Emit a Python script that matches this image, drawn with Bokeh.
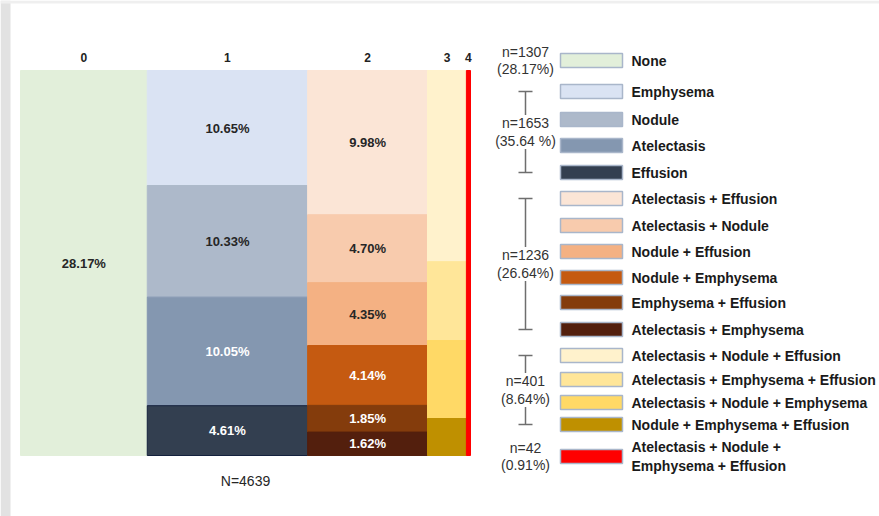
from bokeh.plotting import figure
from bokeh.models import Range1d
from bokeh.core.properties import value
from bokeh.embed import file_html
from bokeh.resources import INLINE

# ---------------- data ----------------
column_labels = ["0", "1", "2", "3", "4"]
column_share = [28.17, 35.64, 26.64, 8.64, 0.91]
column_n = [1307, 1653, 1236, 401, 42]
column_pct_text = ["(28.17%)", "(35.64 %)", "(26.64%)", "(8.64%)", "(0.91%)"]
total_n = 4639

categories = [
    "None",
    "Emphysema", "Nodule", "Atelectasis", "Effusion",
    "Atelectasis + Effusion", "Atelectasis + Nodule", "Nodule + Effusion",
    "Nodule + Emphysema", "Emphysema + Effusion", "Atelectasis + Emphysema",
    "Atelectasis + Nodule + Effusion", "Atelectasis + Emphysema + Effusion",
    "Atelectasis + Nodule + Emphysema", "Nodule + Emphysema + Effusion",
    "Atelectasis + Nodule +\nEmphysema + Effusion",
]
category_column = [0, 1, 1, 1, 1, 2, 2, 2, 2, 2, 2, 3, 3, 3, 3, 4]
category_share = [28.17, 10.65, 10.33, 10.05, 4.61, 9.98, 4.70, 4.35, 4.14,
                  1.85, 1.62, 4.29, 1.77, 1.75, 0.83, 0.91]
labelled_columns = [0, 1, 2]

colors = ["#e2efda", "#dae3f3", "#adb9ca", "#8497b0", "#333f50",
          "#fbe5d6", "#f8cbad", "#f4b183", "#c55a11", "#843c0c", "#531f0d",
          "#fff2cc", "#ffe699", "#ffd966", "#bf9000", "#ff0000"]
dark = [False, False, False, True, True, False, False, False, True, True, True,
        False, False, False, False, True]

# ---------------- layout (pixels) ----------------
W, H = 879, 516
BAR_L, BAR_R, BAR_T, BAR_B = 20, 470, 70, 455
LEGEND_ROWS = [60, 91, 119, 145, 172, 198, 225, 251, 277, 302, 329, 355, 379, 402, 424, 456]
SW_L, SW_R, SW_H = 560, 622, 14
TXT_X = 631
ANN_X = 525
CAP = 7
GAP = 17
FONT = value("Liberation Sans")

sx = (BAR_R - BAR_L) / 100.0
sy = (BAR_B - BAR_T) / 100.0

p = figure(width=W, height=H, output_backend="svg", toolbar_location=None,
           x_range=Range1d(-BAR_L / sx, (W - BAR_L) / sx),
           y_range=Range1d(-(H - BAR_B) / sy, 100 + BAR_T / sy),
           min_border=0, min_border_left=0, min_border_right=0,
           min_border_top=0, min_border_bottom=0)
p.axis.visible = False
p.grid.visible = False
p.outline_line_color = None
p.background_fill_color = "white"
p.border_fill_color = "white"
p.extra_x_ranges = {"px": Range1d(0, W)}
p.extra_y_ranges = {"pxy": Range1d(H, 0)}

# screenshot frame (grey strips at left and top)
p.quad(left=[0, 0], right=[10, W], top=[0, 0], bottom=[H, 3],
       fill_color=["#e2e2e2", "#efefef"], line_color=None,
       x_range_name="px", y_range_name="pxy")

# ---------------- marimekko bars ----------------
col_left = []
acc = 0.0
for s in column_share:
    col_left.append(acc)
    acc += s
col_total = acc

lefts, rights, tops, bottoms, fills, lines = [], [], [], [], [], []
lab_x, lab_y, lab_t, lab_c = [], [], [], []
col_top = {c: 100.0 for c in range(len(column_share))}
for i, cat in enumerate(categories):
    c = category_column[i]
    h = category_share[i] / column_share[c] * 100.0
    top = col_top[c]
    bot = top - h
    col_top[c] = bot
    l = col_left[c] / col_total * 100.0
    r = (col_left[c] + column_share[c]) / col_total * 100.0
    lefts.append(l); rights.append(r); tops.append(top); bottoms.append(bot)
    fills.append(colors[i])
    lines.append("#14213d" if cat == "Effusion" else colors[i])
    if c in labelled_columns:
        lab_x.append((l + r) / 2)
        lab_y.append((top + bot) / 2)
        lab_t.append(f"{category_share[i]:.2f}%")
        lab_c.append("white" if dark[i] else "#262626")

p.quad(left=lefts, right=rights, top=tops, bottom=bottoms,
       fill_color=fills, line_color=lines, line_width=1)
p.text(x=lab_x, y=lab_y, text=lab_t, text_color=lab_c,
       text_font=FONT, text_font_style="bold",
       text_font_size="13px", text_align="center", text_baseline="middle")

# column labels on top
cx = [(col_left[c] + column_share[c] / 2) / col_total * 100.0 for c in range(len(column_share))]
p.text(x=cx, y=[100 + 13 / sy] * len(cx), text=column_labels, text_color="#222222",
       text_font=FONT, text_font_style="bold",
       text_font_size="12px", text_align="center", text_baseline="middle")

# N label
p.text(x=[50], y=[-(480 - BAR_B) / sy], text=[f"N={total_n}"], text_color="#262626",
       text_font=FONT, text_font_size="14px",
       text_align="center", text_baseline="middle")

# ---------------- legend ----------------
n_cat = len(categories)
p.quad(left=[SW_L] * n_cat, right=[SW_R] * n_cat,
       top=[y - SW_H / 2 for y in LEGEND_ROWS], bottom=[y + SW_H / 2 for y in LEGEND_ROWS],
       fill_color=colors, line_color="#a9b6ca", line_width=1.5,
       x_range_name="px", y_range_name="pxy")
p.text(x=[TXT_X] * n_cat, y=LEGEND_ROWS, text=categories, text_color="#1a1a1a",
       text_font=FONT, text_font_style="bold",
       text_font_size="14px", text_align="left", text_baseline="middle",
       text_line_height=1.15, x_range_name="px", y_range_name="pxy")

# ---------------- group annotations with brackets ----------------
ann_y, ann_t = [], []
seg_x0, seg_y0, seg_x1, seg_y1 = [], [], [], []
for c in range(len(column_share)):
    members = [i for i in range(n_cat) if category_column[i] == c]
    top_y, bot_y = LEGEND_ROWS[members[0]], LEGEND_ROWS[members[-1]]
    mid = (top_y + bot_y) / 2
    ann_y.append(mid)
    ann_t.append(f"n={column_n[c]}\n{column_pct_text[c]}")
    if bot_y > top_y:
        seg_x0 += [ANN_X, ANN_X - CAP, ANN_X, ANN_X - CAP]
        seg_y0 += [top_y, top_y, mid + GAP, bot_y]
        seg_x1 += [ANN_X, ANN_X + CAP, ANN_X, ANN_X + CAP]
        seg_y1 += [mid - GAP, top_y, bot_y, bot_y]

p.segment(x0=seg_x0, y0=seg_y0, x1=seg_x1, y1=seg_y1, line_color="#6e6e6e",
          line_width=1.5, x_range_name="px", y_range_name="pxy")
p.text(x=[ANN_X] * len(ann_y), y=ann_y, text=ann_t, text_color="#333333",
       text_font=FONT, text_font_size="14px",
       text_align="center", text_baseline="middle", text_line_height=1.1,
       x_range_name="px", y_range_name="pxy")

open("out.html", "w").write(file_html(p, INLINE))
